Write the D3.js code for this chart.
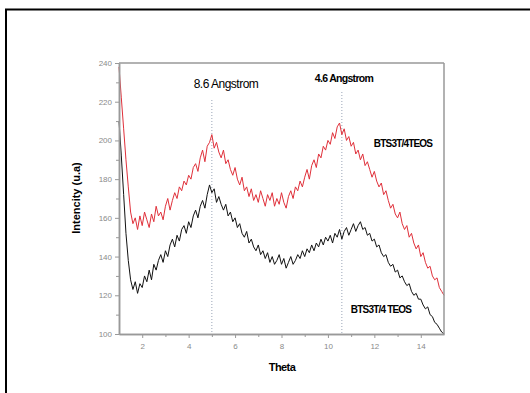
<!DOCTYPE html>
<html><head><meta charset="utf-8">
<script src="https://cdn.jsdelivr.net/npm/d3@7"></script>
<style>body{margin:0;background:#fff}svg{display:block}</style>
</head><body>
<svg id="c" width="530" height="393"></svg>
<script>
const theta = [1.0,1.1,1.2,1.3,1.4,1.5,1.6,1.7,1.8,1.9,2.0,2.1,2.2,2.3,2.4,2.5,2.6,2.7,2.8,2.9,
3.0,3.1,3.2,3.3,3.4,3.5,3.6,3.7,3.8,3.9,4.0,4.1,4.2,4.3,4.4,4.5,4.6,4.7,4.8,4.9,
5.0,5.1,5.2,5.3,5.4,5.5,5.6,5.7,5.8,5.9,6.0,6.1,6.2,6.3,6.4,6.5,6.6,6.7,6.8,6.9,
7.0,7.1,7.2,7.3,7.4,7.5,7.6,7.7,7.8,7.9,8.0,8.1,8.2,8.3,8.4,8.5,8.6,8.7,8.8,8.9,
9.0,9.1,9.2,9.3,9.4,9.5,9.6,9.7,9.8,9.9,10.0,10.1,10.2,10.3,10.4,10.5,10.6,10.7,10.8,10.9,
11.0,11.1,11.2,11.3,11.4,11.5,11.6,11.7,11.8,11.9,12.0,12.1,12.2,12.3,12.4,12.5,12.6,12.7,12.8,12.9,
13.0,13.1,13.2,13.3,13.4,13.5,13.6,13.7,13.8,13.9,14.0,14.1,14.2,14.3,14.4,14.5,14.6,14.7,14.8,14.9,15.0];

const redSeries = [238,222,206,190,176,163,157,160,154,161,
156,163,159,155,162,158,166,161,163,159,
166,170,164,169,173,170,176,174,179,177,
182,180,186,188,184,191,195,189,197,199,
203,196,199,194,191,195,188,190,185,182,
186,180,177,181,174,176,171,175,169,172,
168,174,170,166,172,169,173,166,170,167,
173,168,165,171,174,170,176,174,179,176,
181,185,180,187,190,186,193,191,197,195,
200,198,204,201,207,209,203,206,200,202,
197,199,193,195,190,193,187,189,185,181,
184,179,176,178,172,174,169,165,167,162,
160,163,157,154,156,150,152,147,144,146,
140,142,137,134,135,130,128,129,124,122,
120];

const blackSeries = [210,192,172,152,138,128,123,127,121,126,
124,130,127,133,128,136,133,138,141,137,
143,140,146,149,145,151,148,154,156,152,
158,155,161,164,160,166,169,165,172,177,
173,175,168,171,167,164,167,161,163,158,
160,155,157,152,150,153,147,149,145,143,
146,141,143,139,142,137,140,136,138,141,
136,139,134,137,140,136,138,141,139,143,
140,144,142,146,143,147,145,149,146,150,
148,151,147,152,150,154,149,153,155,151,
154,157,153,156,158,154,155,151,152,148,
149,145,146,142,140,141,137,135,136,132,
133,129,130,127,125,126,122,120,121,118,
118,115,113,114,110,109,106,105,103,101,
100];

const seriesNames = ["BTS3T/4TEOS", "BTS3T/4 TEOS"];
const xTicks = [2,4,6,8,10,12,14];
const xMinor = [3,5,7,9,11,13];
const yTicks = [100,120,140,160,180,200,220,240];
const yMinor = [110,130,150,170,190,210,230];
const peakPositions = [5.0, 10.6];
const peakLabels = ["8.6 Angstrom", "4.6 Angstrom"];

const svg = d3.select("#c");
const L = 119, R = 444, T = 63, B = 334;
const x = d3.scaleLinear().domain([1,15]).range([L,R]);
const y = d3.scaleLinear().domain([100,240]).range([B,T]);

// outer frame
svg.append("rect").attr("x",6).attr("y",9.5).attr("width",700).attr("height",700)
  .attr("fill","none").attr("stroke","#000").attr("stroke-width",2);

const font = "Liberation Sans, Arial, sans-serif";

// dotted peak lines
const peakTops = [100, 92];
peakPositions.forEach((p,i)=>{
  svg.append("line").attr("x1",x(p)).attr("x2",x(p)).attr("y1",peakTops[i]).attr("y2",B)
    .attr("stroke","#9aa6b8").attr("stroke-width",1).attr("stroke-dasharray","1,2");
});

const line = d3.line().x((d,i)=>x(theta[i])).y(d=>y(d));
svg.append("path").datum(blackSeries).attr("d",line).attr("fill","none").attr("stroke","#111").attr("stroke-width",1);
svg.append("path").datum(redSeries).attr("d",line).attr("fill","none").attr("stroke","#e0303a").attr("stroke-width",1);

// axes
const gx = svg.append("g").attr("transform",`translate(0,${B})`)
  .call(d3.axisBottom(x).tickValues(xTicks).tickSize(4).tickSizeOuter(0));
const gxm = svg.append("g").attr("transform",`translate(0,${B})`)
  .call(d3.axisBottom(x).tickValues(xMinor).tickSize(3).tickFormat("").tickSizeOuter(0));
const gy = svg.append("g").attr("transform",`translate(${L},0)`)
  .call(d3.axisLeft(y).tickValues(yTicks).tickSize(4).tickSizeOuter(0));
const gym = svg.append("g").attr("transform",`translate(${L},0)`)
  .call(d3.axisLeft(y).tickValues(yMinor).tickSize(3).tickFormat("").tickSizeOuter(0));
[gx,gxm,gy,gym].forEach(g=>{
  g.selectAll("path").attr("stroke","#999").attr("stroke-width",1.5);
  g.selectAll("line").attr("stroke","#999");
  g.selectAll("text").attr("fill","#8a8a8a").attr("font-family",font).attr("font-size",8);
});
gx.selectAll("text").attr("dy","1.0em");
// top and right frame
svg.append("line").attr("x1",L).attr("x2",R).attr("y1",T).attr("y2",T).attr("stroke","#999").attr("stroke-width",1.5);
svg.append("line").attr("x1",R).attr("x2",R).attr("y1",T).attr("y2",B).attr("stroke","#999").attr("stroke-width",1.5);

// titles
svg.append("text").attr("x",282).attr("y",371).attr("text-anchor","middle")
  .attr("font-family",font).attr("font-weight","bold").attr("font-size",11).attr("letter-spacing",-0.6).text("Theta");
svg.append("text").attr("transform","translate(80,198) rotate(-90)").attr("text-anchor","middle")
  .attr("font-family",font).attr("font-weight","bold").attr("font-size",11).text("Intencity (u.a)");

// peak labels
const labX = [226, 344], labY = [88, 82], labW = ["normal","bold"], labS = [12, 10.5], labLS = [-0.5, -0.7];
peakLabels.forEach((t,i)=>{
  svg.append("text").attr("x",labX[i]).attr("y",labY[i]).attr("text-anchor","middle")
    .attr("font-family",font).attr("font-size",labS[i]).attr("font-weight",labW[i]).attr("letter-spacing",labLS[i]).text(t);
});

// series labels
svg.append("text").attr("x",403).attr("y",147).attr("text-anchor","middle")
  .attr("font-family",font).attr("font-size",10).attr("font-weight","bold").attr("letter-spacing",-0.8).text(seriesNames[0]);
svg.append("text").attr("x",381).attr("y",313).attr("text-anchor","middle")
  .attr("font-family",font).attr("font-size",10).attr("font-weight","bold").attr("letter-spacing",-0.8).text(seriesNames[1]);
</script>
</body></html>
